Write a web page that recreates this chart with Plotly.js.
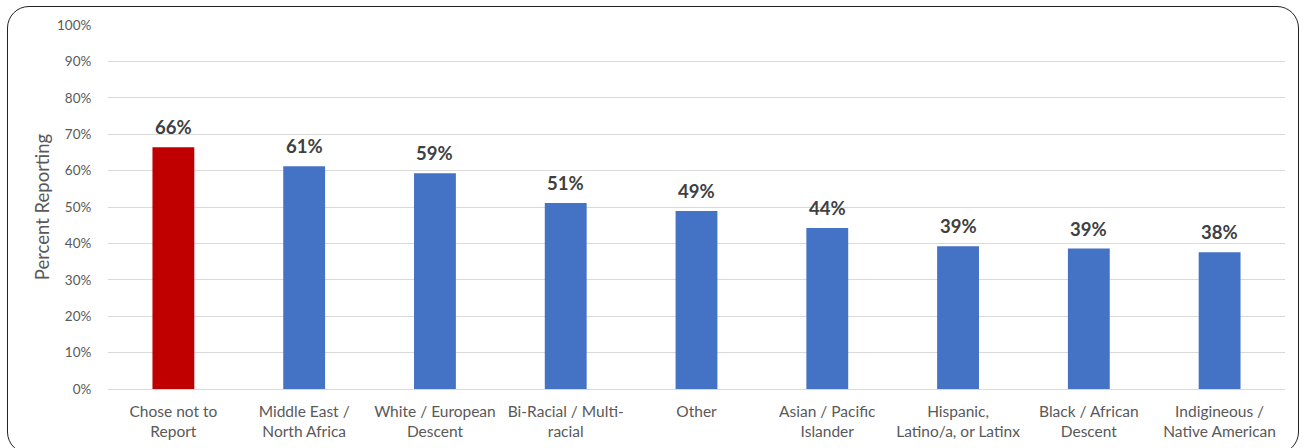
<!DOCTYPE html>
<html>
<head>
<meta charset="utf-8">
<script src="https://cdn.plot.ly/plotly-3.0.1.min.js"></script>
<style>
  html, body { margin: 0; padding: 0; background: #fff; }
  #wrap { position: relative; width: 1304px; height: 448px; }
  #chart { position: absolute; left: 0; top: 0; width: 1304px; height: 448px; }
  #frame { position: absolute; left: 7px; top: 6px; width: 1292px; height: 448px;
           border: 1.5px solid #222; border-radius: 22px; box-sizing: border-box; pointer-events: none; }
</style>
</head>
<body>
<div id="wrap">
  <div id="chart"></div>
  <div id="frame"></div>
</div>
<script>
const categories = [
  "Chose not to<br>Report",
  "Middle East /<br>North Africa",
  "White / European<br>Descent",
  "Bi-Racial / Multi-<br>racial",
  "Other",
  "Asian / Pacific<br>Islander",
  "Hispanic,<br>Latino/a, or Latinx",
  "Black / African<br>Descent",
  "Indigineous /<br>Native American"
];
const values = [0.664, 0.612, 0.593, 0.511, 0.489, 0.442, 0.392, 0.386, 0.376];
const barColors = ["#C00000", "#4472C4", "#4472C4", "#4472C4", "#4472C4", "#4472C4", "#4472C4", "#4472C4", "#4472C4"];
const yTitle = "Percent Reporting";

const FONT = "Lato, 'Open Sans', sans-serif";

const trace = {
  type: "bar",
  x: categories,
  y: values,
  marker: { color: barColors },
  hoverinfo: "skip"
};

const annotations = categories.map((c, i) => ({
  x: c,
  y: values[i],
  xref: "x",
  yref: "y",
  text: "<b>" + Math.round(values[i] * 100) + "%</b>",
  showarrow: false,
  yanchor: "bottom",
  yshift: 7,
  font: { family: FONT, size: 18.5, color: "#404040" }
}));

const layout = {
  width: 1304,
  height: 448,
  margin: { l: 108, r: 19, t: 25, b: 59, pad: 0 },
  paper_bgcolor: "rgba(0,0,0,0)",
  plot_bgcolor: "rgba(0,0,0,0)",
  bargap: 0.68,
  showlegend: false,
  font: { family: FONT, color: "#595959" },
  xaxis: {
    type: "category",
    showgrid: false,
    showline: true,
    linecolor: "#d9d9d9",
    linewidth: 1,
    ticks: "outside",
    ticklen: 8,
    tickcolor: "rgba(0,0,0,0)",
    tickfont: { family: FONT, size: 15.5, color: "#595959" },
    automargin: false
  },
  yaxis: {
    range: [0, 1],
    dtick: 0.1,
    tick0: 0,
    tickformat: ".0%",
    showgrid: true,
    gridcolor: "#d9d9d9",
    gridwidth: 1,
    zeroline: false,
    showline: false,
    ticks: "outside",
    ticklen: 13,
    tickcolor: "rgba(0,0,0,0)",
    tickfont: { family: FONT, size: 13.5, color: "#595959" },
    title: { text: yTitle, font: { family: FONT, size: 18.5, color: "#595959" }, standoff: 2 },
    automargin: true
  },
  annotations: annotations
};

Plotly.newPlot("chart", [trace], layout, { displayModeBar: false, staticPlot: true });
</script>
</body>
</html>
